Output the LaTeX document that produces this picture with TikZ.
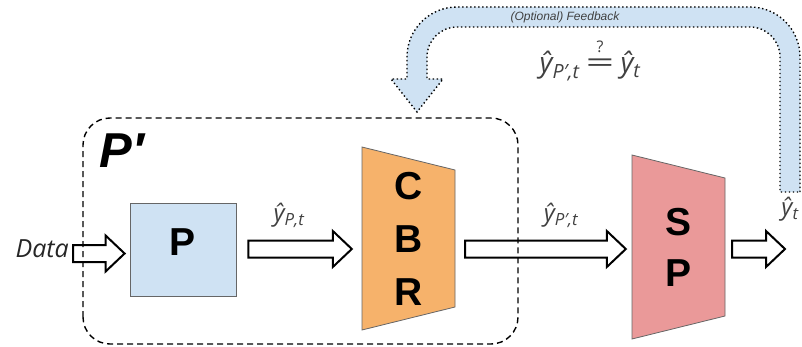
\documentclass[tikz,border=0pt]{standalone}
\usepackage{fontspec}
\usepackage{tikz}
\usetikzlibrary{calc}
\usetikzlibrary{positioning}
\setsansfont{Liberation Sans}
\newfontfamily\opensans{Open Sans}
\definecolor{lblue}{HTML}{CFE2F3}
\definecolor{lorange}{HTML}{F6B26B}
\definecolor{lred}{HTML}{EA9999}
\definecolor{dgray}{HTML}{404040}
\newcommand{\yhat}[1]{\opensans\itshape ŷ\textsubscript{#1}}
\newcommand{\qeq}{{\opensans\upshape\shortstack{{\fontsize{16}{16}\selectfont ?}\\[3pt]\scalebox{1.8}[1]{=}}}}
\tikzset{fatarrow/.style = {draw=black, fill=white, line width=2pt, line join=miter,
                            to path={let \p1=(\tikztostart), \p2=(\tikztotarget) in
                              (\x1, {\y2+8.5pt}) -- ({\x2-19pt}, {\y2+8.5pt}) -- ({\x2-19pt}, {\y2+18pt})
                              -- (\x2, \y2) -- ({\x2-19pt}, {\y2-18pt}) -- ({\x2-19pt}, {\y2-8.5pt})
                              -- (\x1, {\y2-8.5pt}) -- cycle}}}
\tikzset{letters/.style = {font=\sffamily\bfseries\fontsize{39}{53}\selectfont, align=center,
                           minimum width=93pt, inner sep=0pt}}
\tikzset{trap/.style = {draw=black!60, line width=0.8pt}}
\tikzset{ylabel/.style = {font=\opensans\itshape\fontsize{24}{24}\selectfont, text=dgray, inner sep=0pt}}

\begin{document}
\begin{tikzpicture}[x=1pt, y=1pt]
    \useasboundingbox (0, 0) rectangle (802, 346);

    \filldraw [fill=lblue, draw=black, line width=1.4pt, dash pattern=on 1.4pt off 2.6pt]
        (800, 154) -- (800, 289) arc [start angle=0, end angle=90, radius=50pt]
        -- (457, 339) arc [start angle=90, end angle=180, radius=50pt]
        -- (407, 267) -- (391, 267) -- (417, 234) -- (443, 267) -- (427, 267)
        -- (427, 289) arc [start angle=180, end angle=90, radius=30pt]
        -- (750, 319) arc [start angle=90, end angle=0, radius=30pt]
        -- (780, 154) -- cycle;
    \node [font=\sffamily\itshape\fontsize{12}{12}\selectfont, text=dgray] (fb) at (565, 329) {(Optional) Feedback};
    \node [ylabel, font=\opensans\itshape\fontsize{28}{28}\selectfont] (eq) at (590, 285)
        {\yhat{P′,t}\hspace{6pt}\qeq\hspace{6pt}\yhat{t}};

    \node [font=\opensans\itshape\fontsize{25}{25}\selectfont, text=black!85, anchor=east, inner sep=0pt]
        (data) at (69, 97) {Data};
    \node [draw=black!60, line width=0.8pt, fill=lblue, minimum width=106pt, minimum height=93pt,
           font=\sffamily\bfseries\fontsize{39}{39}\selectfont, text depth=14pt] (p) at (183, 96.5) {P};

    \filldraw [trap, fill=lorange] (362, 199) -- (455, 176) -- (455, 39) -- (362, 16) -- cycle;
    \node [letters, minimum height=183pt] (cbr) at (408.5, 107.5) {C\\B\\R};

    \filldraw [trap, fill=lred] (632, 191) -- (725, 168) -- (725, 30) -- (632, 7) -- cycle;
    \node [letters, font=\sffamily\bfseries\fontsize{39}{51}\selectfont, minimum height=184pt]
        (sp) at (678.5, 99) {S\\P};

    \coordinate (out) at (785, 97);
    \draw [fatarrow] ([xshift=4pt]data.east) to ([xshift=-5pt, yshift=-4pt]p.west);
    \draw [fatarrow] ([xshift=12pt]p.east) to ([xshift=-10pt, yshift=-10.5pt]cbr.west);
    \draw [fatarrow] ([xshift=10pt]cbr.east) to ([xshift=-6pt, yshift=-2pt]sp.west);
    \draw [fatarrow] ([xshift=7pt]sp.east) to (out);

    \node [ylabel] (ypt) at (289, 130.5) {\yhat{P,t}};
    \node [ylabel] (yppt) at (561, 130.5) {\yhat{P′,t}};
    \node [ylabel] (yt) at (790, 137) {\yhat{t}};

    \draw [line width=1.4pt, dash pattern=on 6pt off 4pt, rounded corners=27pt] (83, 2) rectangle (518, 228);
    \node [font=\sffamily\bfseries\itshape\fontsize{49}{49}\selectfont] (pprime) at (122, 195) {P′};
\end{tikzpicture}
\end{document}
